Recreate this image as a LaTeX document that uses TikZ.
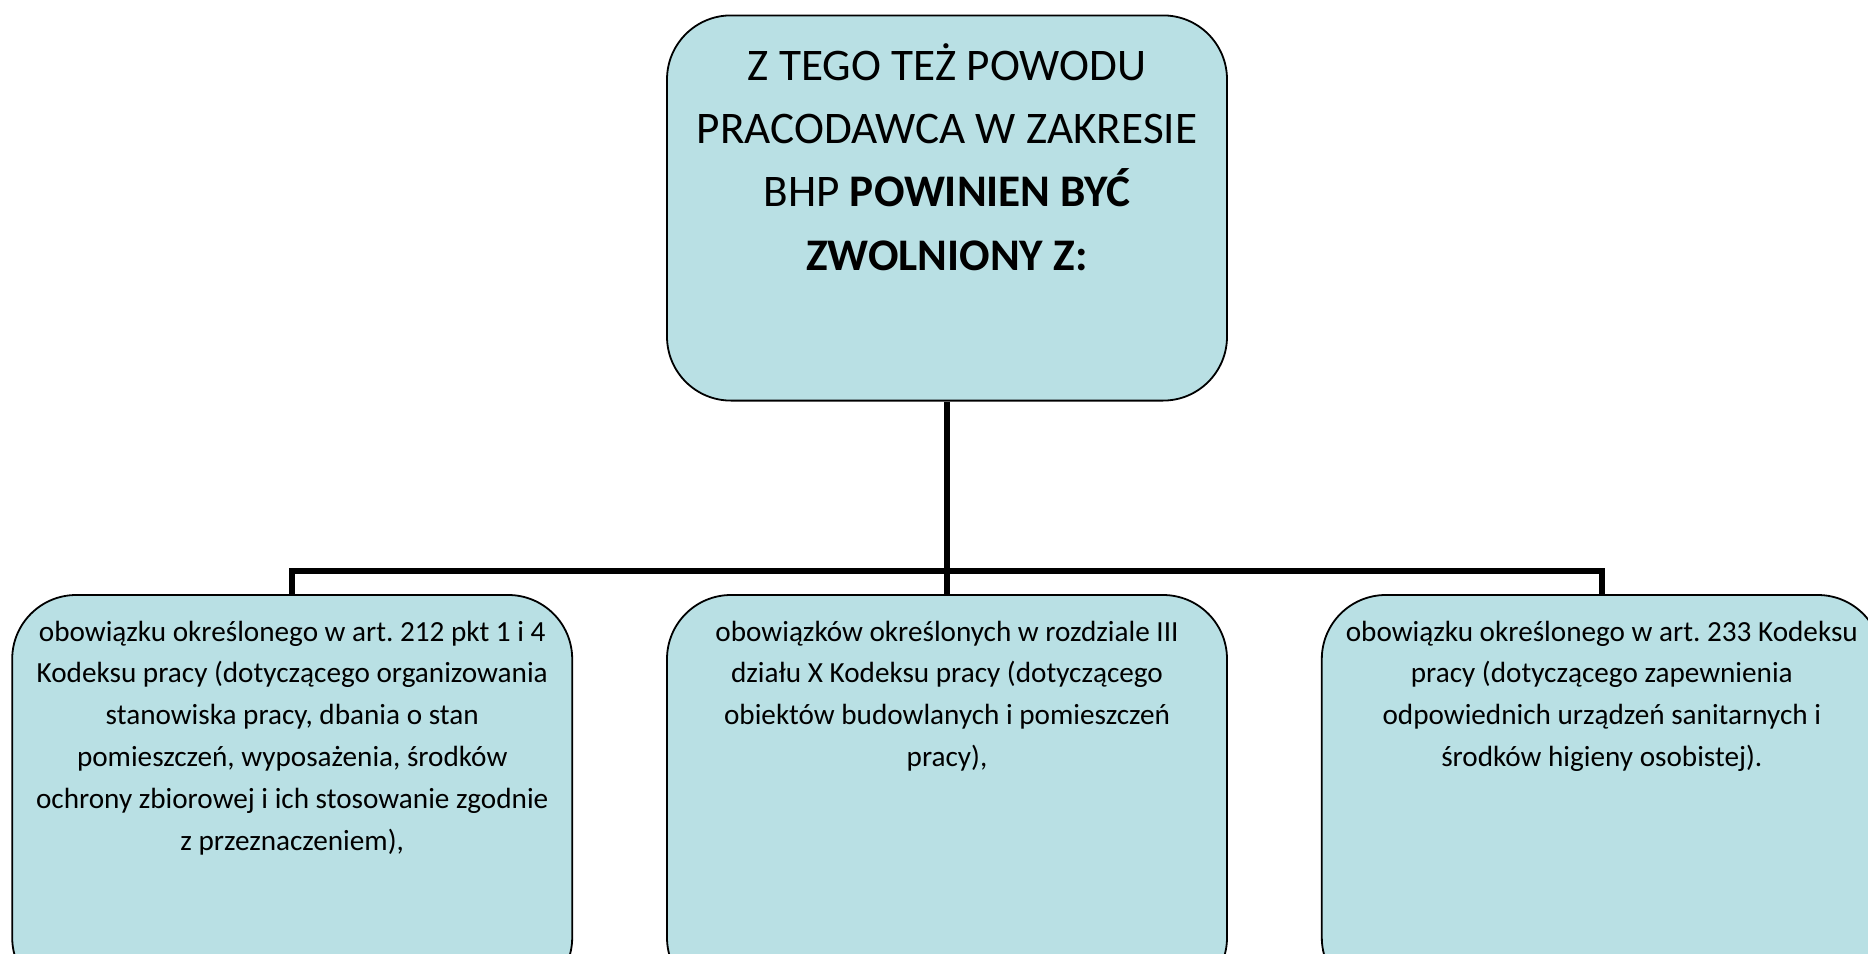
\documentclass[tikz,border=0pt]{standalone}
\usepackage{fontspec}
\setmainfont{Carlito}
\usepackage{xcolor}
\usetikzlibrary{positioning}
\definecolor{boxfill}{RGB}{185,224,228}
\frenchspacing

\begin{document}
\begin{tikzpicture}[x=0.5pt,y=-0.5pt,
    box/.style={draw=black,fill=boxfill,rounded corners=32pt,line width=0.9pt,minimum width=280pt,inner sep=0pt},
    topbox/.style={box,minimum height=192.6pt},
    dutybox/.style={box,minimum height=203.3pt},
    toptxt/.style={align=center,inner sep=0pt,font=\fontsize{22.6}{31.6}\selectfont},
    dutytxt/.style={align=center,inner sep=0pt,font=\fontsize{14.6}{20.9}\selectfont},
    link/.style={line width=3pt}]
    \useasboundingbox (0,0) rectangle (1868,953);
    \clip (0,0) rectangle (1868,953);

    \node[topbox] (zw) at (947,208) {};
    \node[dutybox] (d2) [below=96.3pt of zw] {};
    \node[dutybox] (d1) [left=46.5pt of d2] {};
    \node[dutybox] (d3) [right=46.5pt of d2] {};
    \coordinate (bus) at ([yshift=11.4pt]d2.north);

    \draw[link] (zw.south) -- (bus);
    \draw[link] (d1.north) |- (bus) -| (d3.north);
    \draw[link] (bus) -- (d2.north);

    \node[toptxt] (zwtxt) [below=10.7pt of zw.north] {\strut Z TEGO TEŻ POWODU\\ PRACODAWCA W ZAKRESIE\\ BHP \textbf{POWINIEN BYĆ}\\ \textbf{ZWOLNIONY Z:}};
    \node[dutytxt] (d1txt) [below=8.7pt of d1.north] {\strut obowiązku określonego w art. 212 pkt 1 i 4\\ Kodeksu pracy (dotyczącego organizowania\\ stanowiska pracy, dbania o stan\\ pomieszczeń, wyposażenia, środków\\ ochrony zbiorowej i ich stosowanie zgodnie\\ z przeznaczeniem),};
    \node[dutytxt] (d2txt) [below=8.7pt of d2.north] {\strut obowiązków określonych w rozdziale III\\ działu X Kodeksu pracy (dotyczącego\\ obiektów budowlanych i pomieszczeń\\ pracy),};
    \node[dutytxt] (d3txt) [below=8.7pt of d3.north] {\strut obowiązku określonego w art. 233 Kodeksu\\ pracy (dotyczącego zapewnienia\\ odpowiednich urządzeń sanitarnych i\\ środków higieny osobistej).};
\end{tikzpicture}
\end{document}
